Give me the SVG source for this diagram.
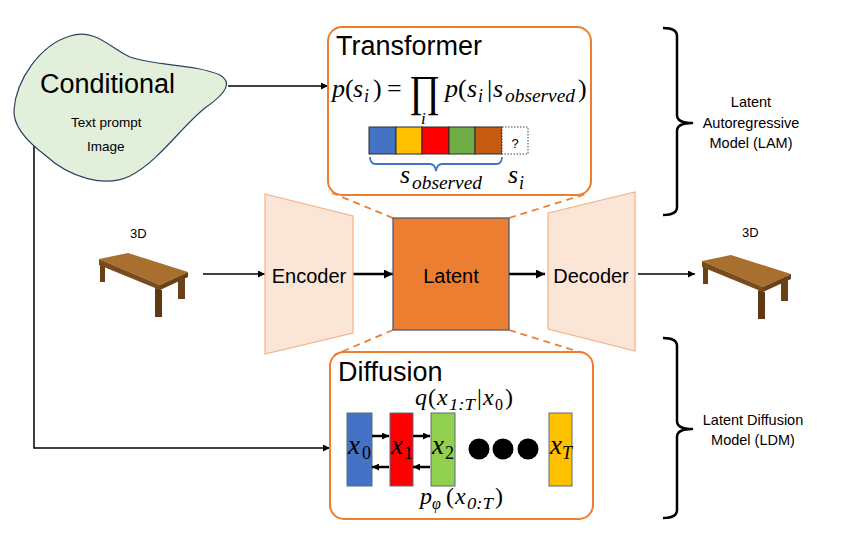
<svg xmlns="http://www.w3.org/2000/svg" width="851" height="543" viewBox="0 0 851 543">
<defs>
<style>
.t{font-family:"Liberation Sans","Open Sans",Arial,sans-serif;fill:#000}
.m{font-family:"Liberation Serif","DejaVu Serif",serif;font-style:italic;fill:#000}
.n{font-family:"Liberation Serif","DejaVu Serif",serif;font-style:normal;fill:#000}
.box{fill:#fff;stroke:#ED7D31;stroke-width:2}
.dash{stroke:#ED7D31;stroke-width:1.8;stroke-dasharray:7,5;fill:none}
.ln{stroke:#000;stroke-width:1.5;fill:none}
.thick{stroke:#000;stroke-width:2.5;fill:none}
.trap{fill:#FBE5D6;stroke:#F4B183;stroke-width:1.2}
.brace{stroke:#000;stroke-width:2.5;fill:none;stroke-linejoin:round}
.tok{stroke:#2b2b2b;stroke-width:1}
.bar{stroke:#5a6a7a;stroke-width:1}
</style>
<marker id="ah" viewBox="0 0 10 10" refX="10" refY="5" markerWidth="7" markerHeight="7" orient="auto" markerUnits="userSpaceOnUse"><path d="M0,0 L10,5 L0,10 z" fill="#000"/></marker>
<marker id="ahb" viewBox="0 0 10 10" refX="10" refY="5" markerWidth="9" markerHeight="9" orient="auto" markerUnits="userSpaceOnUse"><path d="M0,0 L10,5 L0,10 z" fill="#000"/></marker>
<symbol id="table" viewBox="0 0 92 66" overflow="visible">
<polygon points="0,6 29,0 89,19 61,32" fill="#A86F2E"/>
<polygon points="0,6 61,32 61,37 0,12" fill="#7A4B1C"/>
<polygon points="61,32 89,19 89,24 61,37" fill="#6A4015"/>
<polygon points="1,12 6,14 6,29 1,29" fill="#6B4218"/>
<polygon points="56,35 63,37 63,64 56,64" fill="#5E3913"/>
<polygon points="79,28 86,25 86,46 79,46" fill="#6B4218"/>
</symbol>
</defs>
<rect width="851" height="543" fill="#fff"/>

<g id="connectors">
<line class="dash" x1="393" y1="218" x2="332" y2="193"/>
<line class="dash" x1="509" y1="218" x2="589" y2="193"/>
<line class="dash" x1="393" y1="330" x2="334" y2="355"/>
<line class="dash" x1="509" y1="330" x2="589" y2="355"/>
<line class="ln" x1="228" y1="86" x2="328" y2="86" marker-end="url(#ah)"/>
<polyline class="ln" points="34,145 34,448 330,448" marker-end="url(#ah)"/>
<line class="ln" x1="203" y1="274" x2="265" y2="274" marker-end="url(#ah)"/>
<line class="thick" x1="353" y1="274" x2="393" y2="274" marker-end="url(#ahb)"/>
<line class="thick" x1="509" y1="274" x2="545" y2="274" marker-end="url(#ahb)"/>
<line class="ln" x1="638" y1="274" x2="695" y2="274" marker-end="url(#ah)"/>
</g>

<g id="conditional">
<path d="M14,110 C16,80 40,45 70,36 C95,28 110,48 130,57 C155,66 195,64 220,75 C232,82 228,92 205,108 C180,128 160,160 130,176 C105,188 70,178 45,155 C25,140 13,125 14,110 Z" fill="#E2EFDA" stroke="#2F3F5F" stroke-width="1.2"/>
<text class="t" x="40" y="93" font-size="27">Conditional</text>
<text class="t" x="71" y="127" font-size="13.5">Text prompt</text>
<text class="t" x="87" y="151" font-size="13.5">Image</text>
</g>

<g id="transformer">
<rect class="box" x="328" y="27" width="263" height="168" rx="14"/>
<text class="t" x="336" y="55" font-size="27">Transformer</text>
<text class="m" x="332" y="97" font-size="26">p</text>
<text class="n" x="345" y="97" font-size="26">(</text>
<text class="m" x="353" y="97" font-size="26">s</text>
<text class="m" x="364" y="102" font-size="18">i</text>
<text class="n" x="373" y="97" font-size="26">)</text>
<text class="n" x="387" y="97" font-size="26">=</text>
<text class="n" x="409" y="106" font-size="44" textLength="31" lengthAdjust="spacingAndGlyphs">∏</text>
<text class="m" x="421" y="124" font-size="17">i</text>
<text class="m" x="445" y="97" font-size="26">p</text>
<text class="n" x="458" y="97" font-size="26">(</text>
<text class="m" x="467" y="97" font-size="26">s</text>
<text class="m" x="478" y="102" font-size="18">i</text>
<text class="n" x="487" y="97" font-size="26">|</text>
<text class="m" x="493" y="97" font-size="26">s</text>
<text class="m" x="505" y="102" font-size="18" textLength="70" lengthAdjust="spacingAndGlyphs">observed</text>
<text class="n" x="578" y="97" font-size="26">)</text>
<rect class="tok" x="369" y="127" width="27" height="27" fill="#4472C4"/>
<rect class="tok" x="396" y="127" width="26" height="27" fill="#FFC000"/>
<rect class="tok" x="422" y="127" width="27" height="27" fill="#FF0000"/>
<rect class="tok" x="449" y="127" width="26" height="27" fill="#70AD47"/>
<rect class="tok" x="475" y="127" width="27" height="27" fill="#C55A11"/>
<rect x="502" y="127" width="26" height="27" fill="#fff" stroke="#444" stroke-width="1" stroke-dasharray="1.5,1.5"/>
<text class="t" x="515" y="148" font-size="13" text-anchor="middle">?</text>
<path d="M370,157 Q370,164 376,164 L430,164 Q435,164 436,171 Q437,164 442,164 L496,164 Q502,164 502,157" fill="none" stroke="#4472C4" stroke-width="1.8"/>
<text class="m" x="400" y="183" font-size="26">s</text>
<text class="m" x="412" y="189" font-size="18" textLength="70" lengthAdjust="spacingAndGlyphs">observed</text>
<text class="m" x="508" y="183" font-size="26">s</text>
<text class="m" x="519" y="189" font-size="18">i</text>
</g>

<g id="diffusion">
<rect class="box" x="330" y="352" width="263" height="167" rx="14"/>
<text class="t" x="338" y="381" font-size="27">Diffusion</text>
<text class="m" x="415" y="405" font-size="24">q</text>
<text class="n" x="428" y="405" font-size="24">(</text>
<text class="m" x="437" y="405" font-size="24">x</text>
<text class="m" x="449" y="410" font-size="16" textLength="26" lengthAdjust="spacingAndGlyphs">1:T</text>
<text class="n" x="477" y="405" font-size="24">|</text>
<text class="m" x="483" y="405" font-size="24">x</text>
<text class="n" x="495" y="410" font-size="16">0</text>
<text class="n" x="505" y="405" font-size="24">)</text>
<rect class="bar" x="347" y="413" width="25" height="73" fill="#4472C4"/>
<rect class="bar" x="390" y="413" width="23" height="73" fill="#FF0000"/>
<rect class="bar" x="431" y="413" width="24" height="73" fill="#92D050"/>
<rect class="bar" x="549" y="413" width="23" height="73" fill="#FFC000"/>
<text class="m" x="348" y="454" font-size="27">x</text>
<text class="n" x="362" y="459" font-size="18">0</text>
<text class="m" x="391" y="454" font-size="27">x</text>
<text class="n" x="404" y="459" font-size="18">1</text>
<text class="m" x="432" y="454" font-size="27">x</text>
<text class="n" x="445" y="459" font-size="18">2</text>
<text class="m" x="550" y="454" font-size="27">x</text>
<text class="m" x="562" y="459" font-size="18">T</text>
<line class="thick" x1="372" y1="436" x2="389" y2="436" stroke-width="2" marker-end="url(#ah)"/>
<line class="thick" x1="413" y1="436" x2="430" y2="436" stroke-width="2" marker-end="url(#ah)"/>
<line class="thick" x1="389" y1="467" x2="372" y2="467" stroke-width="2" marker-end="url(#ah)"/>
<line class="thick" x1="430" y1="467" x2="413" y2="467" stroke-width="2" marker-end="url(#ah)"/>
<circle cx="479" cy="449" r="10.5" fill="#000"/>
<circle cx="503" cy="449" r="10.5" fill="#000"/>
<circle cx="528" cy="449" r="10.5" fill="#000"/>
<text class="m" x="420" y="504" font-size="24">p</text>
<text class="m" x="432" y="509" font-size="16">φ</text>
<text class="n" x="446" y="504" font-size="24">(</text>
<text class="m" x="455" y="504" font-size="24">x</text>
<text class="m" x="467" y="509" font-size="16" textLength="26" lengthAdjust="spacingAndGlyphs">0:T</text>
<text class="n" x="495" y="504" font-size="24">)</text>
</g>

<g id="table-in">
<text class="t" x="130" y="238" font-size="13">3D</text>
<use href="#table" x="99" y="253" width="92" height="66"/>
</g>

<g id="encoder">
<polygon class="trap" points="265,194 353,216 353,333 265,354"/>
<text class="t" x="309" y="283" font-size="20" text-anchor="middle">Encoder</text>
</g>

<g id="latent">
<rect x="393" y="218" width="116" height="112" fill="#ED7D31" stroke="#44546A" stroke-width="1.2"/>
<text class="t" x="451" y="283" font-size="20" text-anchor="middle">Latent</text>
</g>

<g id="decoder">
<polygon class="trap" points="548,213 635,192 635,351 548,329"/>
<text class="t" x="591" y="283" font-size="20" text-anchor="middle">Decoder</text>
</g>

<g id="table-out">
<text class="t" x="742" y="237" font-size="13">3D</text>
<use href="#table" x="702" y="255" width="92" height="66"/>
</g>

<g id="lam">
<path class="brace" d="M663,28 Q677,28 677,36 L677,115 Q677,123 692,123 Q677,123 677,131 L677,207 Q677,215 663,215"/>
<text class="t" x="751" y="107" font-size="14.5" text-anchor="middle">Latent</text>
<text class="t" x="751" y="128" font-size="14.5" text-anchor="middle">Autoregressive</text>
<text class="t" x="751" y="148" font-size="14.5" text-anchor="middle">Model (LAM)</text>
</g>

<g id="ldm">
<path class="brace" d="M663,338 Q677,338 677,346 L677,421 Q677,429 692,429 Q677,429 677,437 L677,510 Q677,518 663,518"/>
<text class="t" x="753" y="425" font-size="14.5" text-anchor="middle">Latent Diffusion</text>
<text class="t" x="753" y="445" font-size="14.5" text-anchor="middle">Model (LDM)</text>
</g>
</svg>
